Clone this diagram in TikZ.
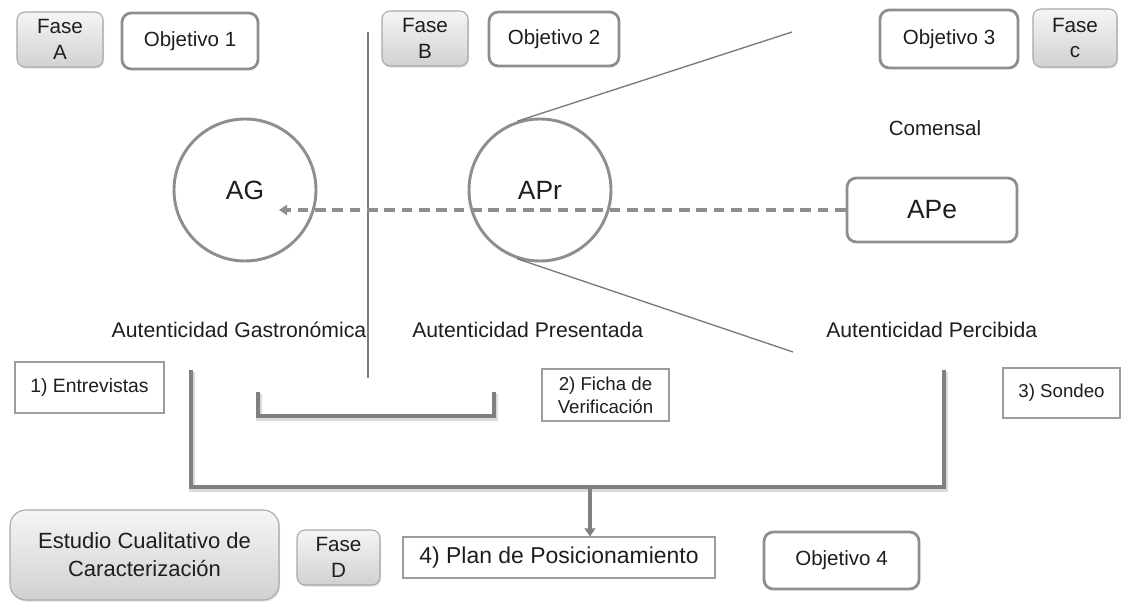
\documentclass[tikz,border=0pt]{standalone}
\usepackage{fontspec}
\setmainfont{Liberation Sans}
\usetikzlibrary{calc,shadows,arrows.meta}
\definecolor{txt}{HTML}{1E1E1E}
\definecolor{faseedge}{HTML}{A8A8A8}
\definecolor{objedge}{HTML}{8E8E8E}
\definecolor{thinedge}{HTML}{9C9C9C}
\definecolor{lineg}{HTML}{7A7A7A}
\definecolor{ug}{HTML}{808080}
\begin{document}
\begin{tikzpicture}[x=0.75pt,y=-0.75pt,
  sz/.style 2 args={minimum width=#1*0.75pt, minimum height=#2*0.75pt},
  fase/.style={draw=faseedge, line width=0.8pt, rounded corners=6pt,
    top color=white!96!black, bottom color=white!82!black,
    drop shadow={opacity=0.25, shadow xshift=0.8pt, shadow yshift=-1.2pt},
    inner sep=0pt, align=center, text=txt, font=\fontsize{15.5}{19}\selectfont},
  obj/.style={draw=objedge, line width=2.1pt, rounded corners=7pt, fill=white,
    inner sep=0pt, align=center, text=txt, font=\fontsize{15.4}{19}\selectfont},
  thinbox/.style={draw=thinedge, line width=0.9pt, fill=white, inner sep=0pt,
    align=center, text=txt, font=\fontsize{14}{17}\selectfont},
  circ/.style={circle, draw=objedge, line width=2.2pt, minimum size=142*0.75pt,
    inner sep=0pt, text=txt, font=\fontsize{19.8}{22}\selectfont},
  lbl/.style={text=txt, inner sep=0pt, font=\fontsize{15.9}{19}\selectfont},
  thinline/.style={draw=lineg, line width=1pt},
  uline/.style={draw=ug, line width=2.6pt},
  ushadow/.style={draw=black, opacity=0.14, line width=4.5pt},
  dasharrow/.style={draw=objedge, line width=2.3pt, dash pattern=on 8pt off 5pt,
    -{Triangle[length=6pt,width=7.5pt]}},
  solidarrow/.style={draw=ug, line width=2.6pt, -{Triangle[length=6pt,width=8pt]}}
]
\useasboundingbox (0,0) rectangle (1122,602);

% top row
\node[fase, sz={86}{55}] (faseA) at (60,39.5) {Fase\\A};
\node[obj, sz={136}{56}] (obj1) at (190,41) {Objetivo 1};
\node[fase, sz={86}{55}] (faseB) at (425,38.5) {Fase\\B};
\node[obj, sz={130}{54}] (obj2) at (554,39) {Objetivo 2};
\node[obj, sz={138}{58}] (obj3) at (949,39) {Objetivo 3};
\node[fase, sz={84}{58}] (faseC) at (1075,38) {Fase\\c};

% thin separator
\coordinate (sepT) at (368,32);
\coordinate (sepB) at (368,378);
\draw[thinline] (sepT) -- (sepB);

% circles and APe
\node[circ] (ag) at (245,190) {AG};
\node[circ] (apr) at (540,190) {APr};
\node[obj, sz={170}{64}, font=\fontsize{19.8}{22}\selectfont] (ape) at (932,210) {APe};
\node[lbl, font=\fontsize{15.4}{19}\selectfont] (comensal) at (935,128) {Comensal};

% tangent lines
\coordinate (pTop) at (792,32);
\coordinate (pBot) at (793,352);
\draw[thinline] (tangent cs:node=apr,point={(pTop)},solution=1) -- (pTop);
\draw[thinline] (tangent cs:node=apr,point={(pBot)},solution=2) -- (pBot);

% dashed arrow
\coordinate (agin) at (279,210);
\draw[dasharrow] (ape.west) -- (agin);

% labels
\node[lbl] (lg) at (239,330) {Autenticidad Gastronómica};
\node[lbl, anchor=west] (lp) at (412,330) {Autenticidad Presentada};
\node[lbl, anchor=west] (lc) at (826,330) {Autenticidad Percibida};

% instrument boxes
\node[thinbox, sz={149}{51}, font=\fontsize{14.5}{17}\selectfont] (entr) at (89.5,387.5) {1) Entrevistas};
\node[thinbox, sz={127}{52}] (ficha) at (605.5,395) {2) Ficha de\\Verificación};
\node[thinbox, sz={117}{50}] (sondeo) at (1061.5,393) {3) Sondeo};

% small bracket
\coordinate (s1) at (258,392);
\coordinate (s2) at (258,416);
\coordinate (s3) at (494,416);
\coordinate (s4) at (494,392);
\draw[ushadow, transform canvas={xshift=0.6pt,yshift=-1.2pt}] (s1) -- (s2) -- (s3) -- (s4);
\draw[uline] (s1) -- (s2) -- (s3) -- (s4);

% big bracket
\coordinate (b1) at (191,370);
\coordinate (b2) at (191,487);
\coordinate (b3) at (944,487);
\coordinate (b4) at (944,370);
\draw[ushadow, transform canvas={xshift=0.6pt,yshift=-1.2pt}] (b1) -- (b2) -- (b3) -- (b4);
\draw[uline] (b1) -- (b2) -- (b3) -- (b4);

% bottom row
\node[fase, sz={269}{90}, rounded corners=12pt, font=\fontsize{16.5}{21}\selectfont] (estudio) at (144.5,555) {Estudio Cualitativo de\\Caracterización};
\node[fase, sz={83}{55}] (faseD) at (338.5,557.5) {Fase\\D};
\node[thinbox, sz={312}{41}, font=\fontsize{17.2}{20}\selectfont] (plan) at (559,557.5) {4) Plan de Posicionamiento};
\node[obj, sz={155}{57}] (obj4) at (841.5,560.5) {Objetivo 4};

\coordinate (arrtop) at (590,487);
\draw[solidarrow] (arrtop) -- (arrtop |- plan.north);
\end{tikzpicture}
\end{document}
